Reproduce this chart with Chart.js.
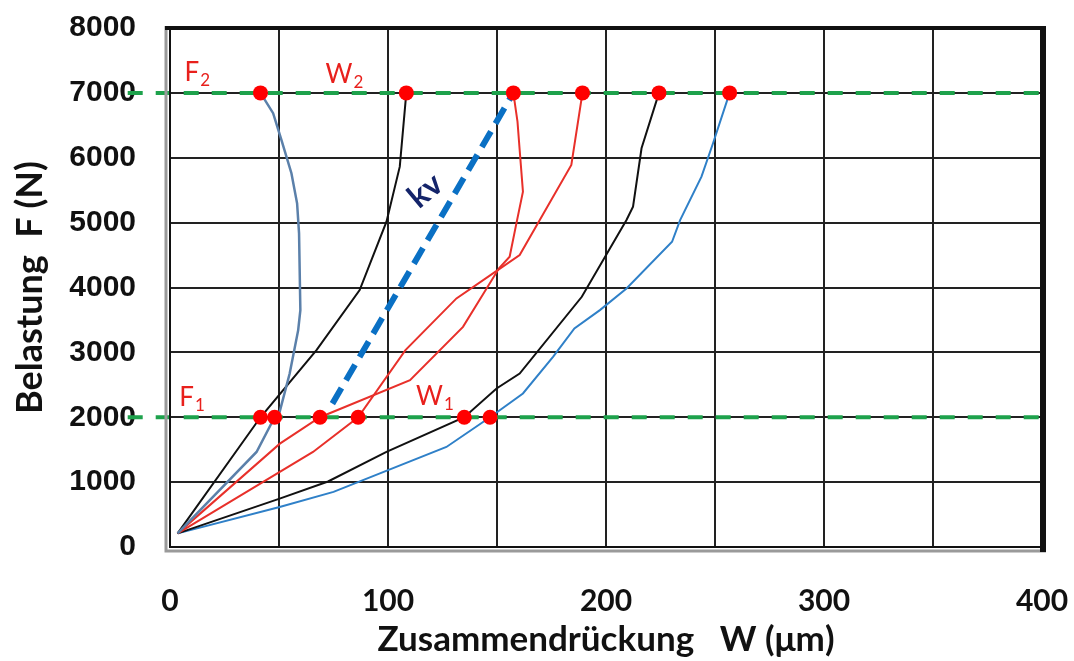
<!DOCTYPE html>
<html>
<head>
<meta charset="utf-8">
<script src="https://cdn.jsdelivr.net/npm/chart.js@4.4.0/dist/chart.umd.min.js"></script>
<style>
  html, body { margin: 0; padding: 0; background: #fff; }
  canvas { display: block; }
</style>
</head>
<body>
<canvas id="chart" width="1074" height="661"></canvas>
<script>
// x: Zusammendrückung W (µm), y: Belastung F (N)
const steelX = [3.5, 39.7, 48.0, 50.3, 54.9, 58.8, 59.8, 59.2, 58.3, 55.7, 51.1, 47.3, 41.5];
const steelY = [210, 1465, 2000, 2082, 2674, 3343, 3651, 4835, 5298, 5761, 6275, 6687, 7000];

const black1X = [3.5, 41.5, 67.2, 87.0, 99.3, 105.4, 108.4];
const black1Y = [210, 2000, 3034, 3960, 5014, 5863, 7000];

const redAX = [3.5, 50.4, 68.8, 110.1, 134.4, 151.0, 155.8, 158.9, 161.9, 160.4, 159.4, 157.5];
const redAY = [210, 1593, 2000, 2572, 3393, 4300, 4474, 4989, 5477, 6120, 6557, 7000];

const redBX = [3.5, 65.6, 86.3, 108.0, 131.4, 150.0, 160.4, 184.1, 189.2];
const redBY = [210, 1465, 2000, 3034, 3832, 4260, 4500, 5889, 7000];

const black2X = [3.5, 50.3, 72.5, 99.3, 135.0, 149.8, 160.4, 188.9, 209.4, 212.4, 216.3, 224.3];
const black2Y = [210, 745, 1010, 1465, 2000, 2443, 2674, 3857, 5040, 5245, 6146, 7000];

const blueX = [3.5, 50.3, 75.0, 126.8, 146.8, 161.9, 175.7, 185.5, 197.2, 209.4, 230.3, 234.0, 243.8, 249.1, 256.7];
const blueY = [210, 616, 850, 1542, 2000, 2366, 2931, 3369, 3651, 3986, 4705, 5040, 5708, 6224, 7000];

// marked points at F1 = 2000 N and F2 = 7000 N
const dotX = [41.5, 108.4, 157.5, 189.2, 224.3, 256.7, 41.5, 48.0, 68.8, 86.3, 135.0, 146.8];
const dotY = [7000, 7000, 7000, 7000, 7000, 7000, 2000, 2000, 2000, 2000, 2000, 2000];

// secant kV
const kvX = [74.5, 157.5];
const kvY = [2210, 7000];

// load levels F1, F2 (start a bit left of the axis)
const levelX = [-19.4, 400];
const levelF1 = [2000, 2000];
const levelF2 = [7000, 7000];

const xTicks = [0, 100, 200, 300, 400];

// text labels placed in data units
const notes = [
  { t: 'F', sub: '2', x: 10.0, y: 7324 },
  { t: 'W', sub: '2', x: 77.5, y: 7290 },
  { t: 'F', sub: '1', x: 7.6, y: 2309 },
  { t: 'W', sub: '1', x: 119.0, y: 2330 }
];

function pts(xs, ys) {
  return xs.map((x, i) => ({ x: x, y: ys[i] }));
}

function line(xs, ys, color, w, order) {
  return {
    data: pts(xs, ys),
    showLine: true,
    borderColor: color,
    borderWidth: w,
    pointRadius: 0,
    pointHoverRadius: 0,
    tension: 0,
    fill: false,
    order: order
  };
}

const frame = {
  id: 'frame',
  afterDatasetsDraw(chart) {
    const { ctx, chartArea: a } = chart;
    ctx.save();
    ctx.lineCap = 'butt';
    // grey outer edge left and bottom
    ctx.strokeStyle = '#9a9a9a';
    ctx.lineWidth = 3;
    ctx.beginPath();
    ctx.moveTo(a.left - 4, a.top - 2);
    ctx.lineTo(a.left - 4, a.bottom + 4);
    ctx.lineTo(a.right + 4, a.bottom + 4);
    ctx.stroke();
    ctx.strokeStyle = '#111';
    ctx.lineWidth = 2;
    ctx.beginPath();
    ctx.moveTo(a.left, a.top);
    ctx.lineTo(a.left, a.bottom);
    ctx.lineTo(a.right, a.bottom);
    ctx.stroke();
    ctx.lineWidth = 4;
    ctx.beginPath();
    ctx.moveTo(a.left - 5, a.top);
    ctx.lineTo(a.right + 3, a.top);
    ctx.stroke();
    ctx.lineWidth = 6;
    ctx.beginPath();
    ctx.moveTo(a.right + 1, a.top - 2);
    ctx.lineTo(a.right + 1, a.bottom + 5);
    ctx.stroke();
    ctx.restore();
  }
};

const labels = {
  id: 'labels',
  afterDraw(chart) {
    const { ctx, scales } = chart;
    ctx.save();
    ctx.fillStyle = '#e8201c';
    ctx.textBaseline = 'alphabetic';
    notes.forEach(n => {
      const px = scales.x.getPixelForValue(n.x);
      const py = scales.y.getPixelForValue(n.y);
      ctx.font = '26px Lato';
      ctx.textAlign = 'center';
      ctx.fillText(n.t, px, py + 9);
      const w = ctx.measureText(n.t).width;
      ctx.font = '17px Lato';
      ctx.textAlign = 'left';
      ctx.fillText(n.sub, px + w / 2 + 1, py + 14);
    });
    // kV label along the secant
    const kx = scales.x.getPixelForValue(117.2);
    const ky = scales.y.getPixelForValue(5492);
    ctx.translate(kx, ky);
    ctx.rotate(-40 * Math.PI / 180);
    ctx.fillStyle = '#14246a';
    ctx.font = 'bold 32px Lato';
    ctx.textAlign = 'center';
    ctx.textBaseline = 'middle';
    ctx.fillText('kv', 0, 0);
    ctx.restore();
  }
};

const gridColor = '#222';

new Chart(document.getElementById('chart'), {
  type: 'scatter',
  data: {
    datasets: [
      Object.assign(line(levelX, levelF2, '#1ea24c', 4, 5), { borderDash: [15, 13], clip: false }),
      Object.assign(line(levelX, levelF1, '#1ea24c', 4, 5), { borderDash: [15, 13], clip: false }),
      line(steelX, steelY, '#5b80aa', 2.5, 3),
      line(black1X, black1Y, '#111', 2, 3),
      line(redAX, redAY, '#e8302a', 2, 3),
      line(redBX, redBY, '#e8302a', 2, 3),
      line(black2X, black2Y, '#111', 2, 3),
      line(blueX, blueY, '#2f80c8', 2, 3),
      Object.assign(line(kvX, kvY, '#0a70c4', 6, 2), { borderDash: [18, 9] }),
      {
        data: pts(dotX, dotY),
        pointRadius: 7.5,
        pointHoverRadius: 7.5,
        pointBackgroundColor: '#ff0000',
        pointBorderColor: '#ff0000',
        pointBorderWidth: 0,
        showLine: false,
        order: 0
      }
    ]
  },
  options: {
    responsive: false,
    devicePixelRatio: 1,
    animation: false,
    events: [],
    layout: { padding: { left: 0, right: 32, top: 28, bottom: 0 } },
    plugins: {
      legend: { display: false },
      tooltip: { enabled: false }
    },
    scales: {
      x: {
        type: 'linear',
        min: 0,
        max: 400,
        afterFit(s) {
          s.height = 114;
          s.paddingLeft = 0;
          s.paddingRight = 0;
        },
        afterBuildTicks(s) {
          s.ticks = [];
          for (let v = 0; v <= 400; v += 50) s.ticks.push({ value: v });
        },
        grid: { color: gridColor, lineWidth: 2, drawTicks: false },
        border: { display: false },
        ticks: {
          autoSkip: false,
          maxRotation: 0,
          padding: 36,
          color: '#111',
          font: { family: 'Lato', weight: 'bold', size: 30 },
          callback: v => xTicks.includes(v) ? String(v) : ''
        },
        title: {
          display: true,
          text: 'Zusammendrückung   W (μm)',
          color: '#111',
          font: { family: 'Lato', weight: 'bold', size: 35 },
          padding: { top: 0, bottom: 0 }
        }
      },
      y: {
        type: 'linear',
        min: 0,
        max: 8000,
        afterFit(s) {
          s.width = 170;
          s.paddingTop = 0;
          s.paddingBottom = 0;
        },
        grid: { color: gridColor, lineWidth: 2, drawTicks: false },
        border: { display: false },
        ticks: {
          stepSize: 1000,
          padding: 34,
          color: '#111',
          font: { family: '"Liberation Sans"', weight: 'bold', size: 30 },
          callback: v => String(v)
        },
        title: {
          display: true,
          text: 'Belastung  F (N)',
          color: '#111',
          font: { family: 'Lato', weight: 'bold', size: 36 },
          padding: { top: 9, bottom: 0 }
        }
      }
    }
  },
  plugins: [frame, labels]
});
</script>
</body>
</html>
